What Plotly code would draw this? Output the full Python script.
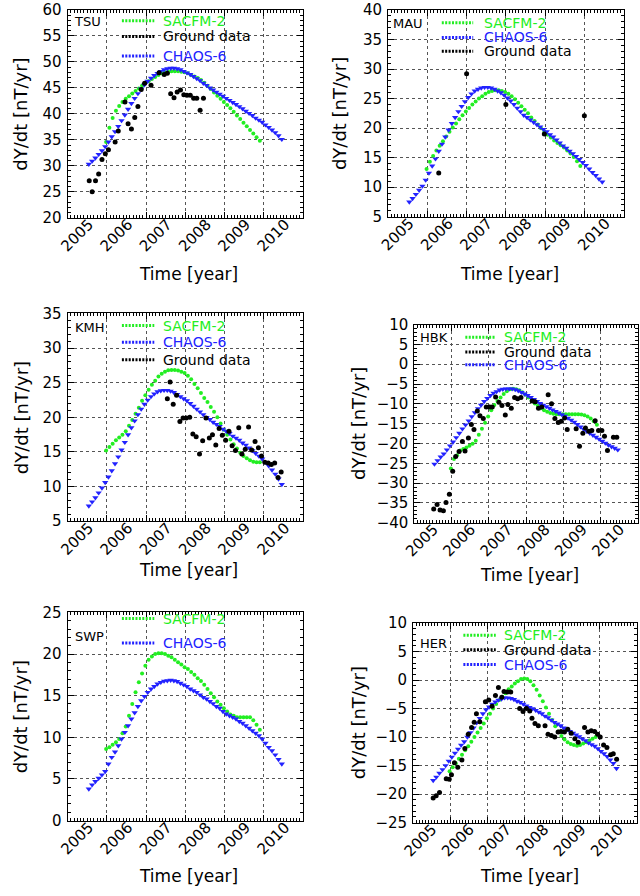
import numpy as np
import plotly.graph_objects as go

W, H = 640, 896

# ---------------- data ----------------
CHAOS_START = 2004.54   # monthly model values (x axis units)
SACFM_START = 2004.98
X_TICKS = [2005, 2006, 2007, 2008, 2009, 2010]

TSU_CHAOS = [30.3, 30.9, 31.5, 32.2, 32.9, 33.7, 34.6, 35.6, 36.6, 37.6,
             38.7, 39.8, 40.9, 42.0, 43.0, 43.9, 44.8, 45.6, 46.3, 46.9,
             47.4, 47.8, 48.2, 48.5, 48.7, 48.8, 48.8, 48.7, 48.5, 48.2,
             47.9, 47.6, 47.2, 46.8, 46.4, 45.9, 45.5, 45.0, 44.6, 44.2,
             43.8, 43.4, 43.0, 42.6, 42.2, 41.8, 41.4, 41.0, 40.5, 40.1,
             39.7, 39.2, 38.8, 38.4, 37.9, 37.4, 36.9, 36.4, 35.8, 35.1]
TSU_SACFM = [34.6, 37.3, 39.2, 40.6, 41.5, 42.3, 42.9, 43.4, 43.9, 44.4,
             44.9, 45.4, 45.9, 46.3, 46.7, 47.1, 47.5, 47.8, 48.0, 48.1,
             48.2, 48.2, 48.2, 48.1, 48.0, 47.8, 47.5, 47.2, 46.9, 46.5,
             46.0, 45.4, 44.8, 44.1, 43.5, 42.9, 42.3, 41.7, 41.1, 40.4,
             39.7, 39.0, 38.3, 37.6, 36.9, 36.2, 35.5, 34.8]
TSU_GROUND_T = [2004.55, 2004.625, 2004.71, 2004.79, 2004.875, 2004.96, 2005.04, 2005.21,
                2005.29, 2005.46, 2005.54, 2005.625, 2005.71, 2005.79, 2005.875, 2005.96,
                2006.125, 2006.33, 2006.46, 2006.54, 2006.625, 2006.71, 2006.79, 2006.875,
                2006.96, 2007.04, 2007.125, 2007.21, 2007.29, 2007.375, 2007.46]
TSU_GROUND = [27.1, 25.0, 27.1, 28.4, 31.2, 32.3, 33.1, 34.6, 36.7, 42.3, 38.1, 37.1,
              39.3, 41.4, 44.7, 45.9, 45.5, 47.9, 47.6, 47.8, 43.85, 43.1, 44.2, 44.6,
              43.7, 43.6, 43.6, 43.0, 43.0, 40.7, 43.0]

MAU_CHAOS = [7.5, 8.1, 8.8, 9.5, 10.2, 11.2, 12.4, 13.6, 14.8, 16.1,
             17.3, 18.5, 19.7, 20.8, 21.8, 22.8, 23.7, 24.5, 25.2, 25.8,
             26.3, 26.6, 26.8, 26.9, 26.9, 26.8, 26.6, 26.3, 26.0, 25.6,
             25.1, 24.6, 24.0, 23.4, 22.8, 22.2, 21.8, 21.4, 21.0, 20.6,
             20.2, 19.8, 19.4, 18.9, 18.5, 18.0, 17.5, 17.0, 16.6, 16.1,
             15.7, 15.2, 14.7, 14.2, 13.7, 13.1, 12.5, 12.0, 11.4, 10.9]
MAU_SACFM = [13.1, 14.3, 15.3, 16.2, 17.0, 17.8, 18.6, 19.4, 20.1, 20.8,
             21.5, 22.2, 22.8, 23.4, 24.0, 24.5, 25.0, 25.4, 25.8, 26.1,
             26.3, 26.4, 26.4, 26.3, 26.1, 25.8, 25.4, 24.9, 24.3, 23.7,
             23.1, 22.5, 21.8, 21.2, 20.6, 20.0, 19.4, 18.9, 18.4, 17.9,
             17.5, 17.1, 16.7, 16.2, 15.7, 15.1, 14.4, 13.6]
MAU_GROUND_T = [2005.29, 2006.0, 2007.0, 2007.98, 2009.0]
MAU_GROUND = [12.4, 29.2, 24.0, 19.0, 22.1]

KMH_CHAOS = [7.2, 7.8, 8.4, 9.1, 9.8, 10.6, 11.4, 12.3, 13.3, 14.3,
             15.3, 16.4, 17.5, 18.5, 19.5, 20.4, 21.2, 21.9, 22.5, 23.0,
             23.4, 23.7, 23.85, 23.9, 23.9, 23.8, 23.6, 23.3, 23.0, 22.7,
             22.4, 22.0, 21.6, 21.2, 20.8, 20.4, 20.0, 19.7, 19.3, 19.0,
             18.7, 18.3, 18.0, 17.7, 17.3, 17.0, 16.7, 16.3, 16.0, 15.6,
             15.2, 14.8, 14.4, 14.0, 13.5, 13.0, 12.4, 11.8, 11.1, 10.3]
KMH_SACFM = [15.2, 15.7, 16.2, 16.7, 17.1, 17.5, 18.0, 18.8, 19.6, 20.5,
             21.4, 22.4, 23.2, 24.0, 24.7, 25.3, 25.9, 26.3, 26.6, 26.8,
             26.85, 26.85, 26.75, 26.6, 26.4, 26.0, 25.5, 24.8, 24.2, 23.5,
             22.8, 22.2, 21.5, 20.8, 20.0, 19.1, 18.2, 17.5, 16.8, 16.1,
             15.5, 14.9, 14.4, 14.1, 13.8, 13.6, 13.5, 13.5]
KMH_GROUND_T = [2006.54, 2006.61, 2006.69, 2006.775, 2006.86, 2006.94, 2007.02, 2007.11,
                2007.19, 2007.275, 2007.36, 2007.44, 2007.525, 2007.61, 2007.69, 2007.775,
                2007.86, 2007.94, 2008.025, 2008.11, 2008.19, 2008.275, 2008.36, 2008.44,
                2008.525, 2008.61, 2008.69, 2008.775, 2008.86, 2008.94, 2009.025, 2009.11,
                2009.19, 2009.275, 2009.36, 2009.44]
KMH_GROUND = [22.7, 25.1, 21.9, 23.2, 19.4, 19.9, 19.9, 20.0, 17.6, 17.2, 14.7, 16.6,
              19.9, 17.0, 17.5, 16.0, 18.4, 17.4, 16.7, 18.0, 15.9, 15.2, 18.5, 14.7,
              15.4, 18.6, 15.3, 16.5, 15.6, 14.4, 13.5, 13.4, 13.2, 13.4, 11.3, 12.1]

HBK_CHAOS = [-25.2, -24.3, -23.4, -22.6, -21.6, -20.6, -19.6, -18.5, -17.4, -16.3,
             -15.3, -14.3, -13.2, -12.2, -11.2, -10.3, -9.4, -8.6, -7.9, -7.3,
             -6.9, -6.5, -6.3, -6.2, -6.2, -6.2, -6.4, -6.7, -7.1, -7.5,
             -7.9, -8.4, -8.9, -9.4, -9.9, -10.3, -10.7, -11.1, -11.5, -11.9,
             -12.3, -12.7, -13.1, -13.6, -14.1, -14.6, -15.2, -15.8, -16.4, -16.9,
             -17.4, -17.9, -18.4, -18.9, -19.4, -19.9, -20.4, -20.8, -21.2, -21.6]
HBK_SACFM = [-26.3, -23.9, -23.0, -21.8, -21.4, -21.0, -20.6, -20.1, -19.3, -17.8,
             -16.3, -14.8, -13.2, -11.6, -10.3, -9.3, -8.4, -7.5, -6.8, -6.3,
             -6.2, -6.3, -6.6, -7.1, -7.7, -8.4, -9.2, -9.9, -10.5, -11.1,
             -11.6, -12.0, -12.3, -12.5, -12.6, -12.6, -12.6, -12.6, -12.6, -12.6,
             -12.6, -12.6, -12.7, -12.9, -13.2, -13.7, -14.4, -15.3]
HBK_GROUND_T = [2004.52, 2004.61, 2004.69, 2004.78, 2004.85, 2004.94, 2005.03, 2005.11,
                2005.2, 2005.29, 2005.36, 2005.45, 2005.53, 2005.6, 2005.69, 2005.76,
                2005.85, 2005.93, 2006.02, 2006.09, 2006.18, 2006.27, 2006.35, 2006.44,
                2006.51, 2006.6, 2006.69, 2006.77, 2006.86, 2007.16, 2007.24, 2007.33,
                2007.42, 2007.59, 2007.68, 2007.77, 2007.86, 2007.94, 2008.03, 2008.1,
                2008.34, 2008.43, 2008.52, 2008.59, 2008.68, 2008.76, 2008.85, 2008.94,
                2009.03, 2009.1, 2009.18, 2009.34, 2009.43]
HBK_GROUND = [-36.5, -35.4, -36.8, -37.0, -34.9, -32.8, -27.0, -23.3, -22.0, -19.5,
              -21.9, -18.6, -15.2, -16.5, -11.8, -13.0, -13.7, -10.8, -10.8, -10.8,
              -8.3, -9.6, -10.4, -12.8, -10.2, -11.1, -8.4, -8.7, -8.4, -9.3,
              -9.5, -11.1, -10.8, -7.7, -10.0, -13.7, -14.7, -14.4, -13.6, -16.5,
              -16.3, -20.7, -17.4, -16.1, -16.9, -16.7, -14.3, -16.7, -16.7, -18.2,
              -21.8, -18.4, -18.4]

SWP_CHAOS = [3.8, 4.3, 4.7, 5.1, 5.5, 5.9, 6.8, 7.6, 8.25, 9.0,
             9.8, 10.6, 11.4, 12.2, 12.95, 13.7, 14.4, 14.9, 15.4, 15.8,
             16.1, 16.4, 16.6, 16.75, 16.8, 16.85, 16.8, 16.7, 16.5, 16.3,
             16.1, 15.8, 15.6, 15.4, 15.1, 14.8, 14.6, 14.3, 14.05, 13.7,
             13.5, 13.1, 12.8, 12.6, 12.4, 12.2, 11.9, 11.7, 11.4, 11.1,
             10.8, 10.5, 10.2, 9.8, 9.3, 8.8, 8.4, 7.9, 7.35, 6.8]
SWP_SACFM = [8.6, 8.8, 9.1, 9.4, 9.8, 10.5, 11.3, 12.6, 14.0, 15.4,
             16.6, 17.65, 18.6, 19.3, 19.7, 20.0, 20.1, 20.1, 20.0, 19.8,
             19.6, 19.3, 19.0, 18.75, 18.4, 18.2, 17.85, 17.5, 17.1, 16.75,
             16.3, 15.8, 15.3, 14.8, 14.3, 13.9, 13.5, 13.1, 12.75, 12.6,
             12.4, 12.4, 12.4, 12.4, 12.4, 12.05, 11.5, 10.9]

HER_CHAOS = [-17.6, -17.0, -16.3, -15.7, -15.0, -14.2, -13.5, -12.8, -12.1, -11.4,
             -10.8, -10.0, -9.2, -8.4, -7.5, -6.7, -5.9, -5.2, -4.7, -4.2,
             -3.8, -3.5, -3.3, -3.1, -3.1, -3.2, -3.4, -3.7, -3.9, -4.2,
             -4.5, -4.8, -5.0, -5.3, -5.6, -5.9, -6.3, -6.6, -7.0, -7.4,
             -7.7, -8.0, -8.4, -8.7, -9.0, -9.3, -9.6, -9.9, -10.3, -10.6,
             -11.0, -11.3, -11.6, -12.0, -12.5, -12.9, -13.4, -14.0, -14.6, -15.5]
HER_SACFM = [-16.0, -15.3, -14.6, -13.8, -13.1, -12.3, -11.6, -10.8, -10.0, -9.2,
             -8.4, -7.6, -6.7, -5.9, -5.0, -4.2, -3.5, -2.9, -2.3, -1.6,
             -1.1, -0.6, -0.2, 0.2, 0.3, 0.2, -0.2, -0.9, -1.7, -2.7,
             -3.7, -4.8, -5.9, -7.0, -8.1, -9.0, -9.8, -10.4, -10.9, -11.2,
             -11.4, -11.5, -11.4, -11.1, -10.9, -10.6, -10.3, -10.0]
HER_GROUND_T = [2004.54, 2004.62, 2004.71, 2004.89, 2004.97, 2005.03, 2005.11, 2005.2,
                2005.31, 2005.39, 2005.48, 2005.57, 2005.64, 2005.7, 2005.79, 2005.94,
                2006.03, 2006.12, 2006.21, 2006.29, 2006.38, 2006.44, 2006.53, 2006.62,
                2006.86, 2006.95, 2007.04, 2007.13, 2007.19, 2007.27, 2007.36, 2007.54,
                2007.62, 2007.71, 2007.8, 2007.89, 2007.97, 2008.06, 2008.15, 2008.24,
                2008.34, 2008.43, 2008.6, 2008.69, 2008.78, 2008.87, 2008.95, 2009.02,
                2009.11, 2009.2, 2009.3, 2009.37, 2009.46]
HER_GROUND = [-20.7, -20.3, -19.7, -17.3, -17.4, -16.6, -14.5, -15.3, -14.0, -12.0,
              -9.5, -8.3, -7.4, -5.9, -7.3, -3.8, -3.5, -4.6, -2.7, -1.3,
              -3.0, -2.0, -2.1, -2.1, -5.0, -5.5, -5.0, -5.4, -6.7, -7.6,
              -8.0, -8.0, -9.5, -9.7, -10.0, -9.1, -9.0, -9.1, -8.6, -9.3,
              -10.3, -10.9, -8.3, -9.1, -8.9, -9.0, -9.5, -10.0, -11.4, -11.8,
              -13.1, -12.9, -13.9]

# ---------------- styles / layout ----------------
GREEN = "#22ee22"
BLUE = "#2222ff"
BLACK = "#000000"
FONT = "DejaVu Sans"

SERIES = {
    "SACFM-2": dict(color=GREEN, symbol="circle", size=4),
    "CHAOS-6": dict(color=BLUE, symbol="triangle-down", size=5.5),
    "Ground data": dict(color=BLACK, symbol="circle", size=5),
}

PANELS = [
    dict(name="TSU", chaos=TSU_CHAOS, sacfm=TSU_SACFM, gt=TSU_GROUND_T, gv=TSU_GROUND,
         yrange=(20, 60), box=(56.7, 296.7, 1, 213), ytx=9, xty=270, xtx=180,
         st=(77, 13), samp=(112, 145), tx=153,
         leg=[("SACFM-2", 12), ("Ground data", 28), ("CHAOS-6", 48)]),
    dict(name="MAU", chaos=MAU_CHAOS, sacfm=MAU_SACFM, gt=MAU_GROUND_T, gv=MAU_GROUND,
         yrange=(5, 40), box=(383.3, 623.3, 1, 212), ytx=334, xty=270, xtx=507,
         st=(404, 15), samp=(438, 470), tx=480,
         leg=[("SACFM-2", 14), ("CHAOS-6", 29), ("Ground data", 43)]),
    dict(name="KMH", chaos=KMH_CHAOS, sacfm=KMH_SACFM, gt=KMH_GROUND_T, gv=KMH_GROUND,
         yrange=(5, 35), box=(56.7, 296.7, 310.7, 522.7), ytx=9, xty=573, xtx=180,
         st=(79, 325), samp=(112, 145), tx=153,
         leg=[("SACFM-2", 323), ("CHAOS-6", 340), ("Ground data", 358)]),
    dict(name="HBK", chaos=HBK_CHAOS, sacfm=HBK_SACFM, gt=HBK_GROUND_T, gv=HBK_GROUND,
         yrange=(-40, 10), box=(410, 638, 322, 524.3), ytx=353, xty=578, xtx=527,
         st=(430, 335), samp=(462, 493), tx=500,
         leg=[("SACFM-2", 335), ("Ground data", 350), ("CHAOS-6", 363)]),
    dict(name="SWP", chaos=SWP_CHAOS, sacfm=SWP_SACFM, gt=None, gv=None,
         yrange=(0, 25), box=(56.7, 296.7, 615.7, 828.3), ytx=9, xty=885, xtx=180,
         st=(79, 640), samp=(112, 145), tx=153,
         leg=[("SACFM-2", 622), ("CHAOS-6", 647)]),
    dict(name="HER", chaos=HER_CHAOS, sacfm=HER_SACFM, gt=HER_GROUND_T, gv=HER_GROUND,
         yrange=(-25, 10), box=(408.7, 636.7, 626.7, 830.3), ytx=353, xty=885, xtx=527,
         st=(430, 647), samp=(460, 493), tx=500,
         leg=[("SACFM-2", 639), ("Ground data", 654), ("CHAOS-6", 669)]),
]


def fx(px):
    return px / W


def fy(py):
    return 1 - py / H


fig = go.Figure()
layout = dict(width=W, height=H, margin=dict(l=0, r=0, t=0, b=0, pad=0),
              paper_bgcolor="white", plot_bgcolor="white", showlegend=False,
              font=dict(family=FONT, size=15, color="black"))
annotations = []
shapes = []

for k, p in enumerate(PANELS, start=1):
    xa = "x" if k == 1 else f"x{k}"
    ya = "y" if k == 1 else f"y{k}"
    l, r, t, b = p["box"]
    ax_common = dict(showline=True, linecolor="black", linewidth=1, mirror="allticks",
                     ticks="inside", ticklen=6, tickcolor="black",
                     showgrid=True, gridcolor="#555555", griddash="dot", gridwidth=1,
                     zeroline=False, tickfont=dict(family=FONT, size=15, color="black"))
    layout[f"xaxis{'' if k == 1 else k}"] = dict(
        ax_common, domain=[fx(l), fx(r)], anchor=ya, range=[2004, 2010],
        tickvals=X_TICKS, ticktext=[str(v) for v in X_TICKS], tickangle=-45,
        ticklabelshift=-18, ticklabelstandoff=-9,
        minor=dict(dtick=1 / 12, tick0=2004, ticks="inside", ticklen=3,
                   tickcolor="black", showgrid=False))
    y0, y1 = p["yrange"]
    layout[f"yaxis{'' if k == 1 else k}"] = dict(
        ax_common, domain=[fy(b), fy(t)], anchor=xa, range=[y0, y1],
        tickmode="linear", tick0=y0, dtick=5, ticklabelstandoff=2,
        minor=dict(dtick=1, ticks="inside", ticklen=3, tickcolor="black", showgrid=False))

    # model curves and ground data
    t_s = SACFM_START + np.arange(len(p["sacfm"])) / 12
    t_c = CHAOS_START + np.arange(len(p["chaos"])) / 12
    for lab, tt, vv in [("SACFM-2", t_s, p["sacfm"]), ("CHAOS-6", t_c, p["chaos"]),
                        ("Ground data", p["gt"], p["gv"])]:
        if tt is None:
            continue
        st = SERIES[lab]
        fig.add_trace(go.Scatter(x=tt, y=vv, mode="markers", xaxis=xa, yaxis=ya, name=lab,
                                 marker=dict(color=st["color"], symbol=st["symbol"],
                                             size=st["size"], line=dict(width=0))))

    # station label
    annotations.append(dict(text=p["name"], x=fx(p["st"][0]), y=fy(p["st"][1]),
                            xref="paper", yref="paper", showarrow=False,
                            xanchor="center", yanchor="middle",
                            font=dict(family=FONT, size=13, color="black")))
    # legend
    for lab, yy in p["leg"]:
        c = SERIES[lab]["color"]
        shapes.append(dict(type="line", xref="paper", yref="paper",
                           x0=fx(p["samp"][0]), x1=fx(p["samp"][1]),
                           y0=fy(yy), y1=fy(yy),
                           line=dict(color=c, width=3, dash="2px,1.4px")))
        annotations.append(dict(text=lab, x=fx(p["tx"]), y=fy(yy), xref="paper", yref="paper",
                                showarrow=False, xanchor="left", yanchor="middle",
                                borderpad=0, height=12,
                                font=dict(family=FONT, size=14, color=c)))
    # axis titles
    annotations.append(dict(text="dY/dt [nT/yr]", x=fx(p["ytx"]), y=fy((t + b) / 2),
                            xref="paper", yref="paper", showarrow=False, textangle=-90,
                            xanchor="center", yanchor="middle",
                            font=dict(family=FONT, size=18, color="black")))
    annotations.append(dict(text="Time [year]", x=fx(p["xtx"]), y=fy(p["xty"]),
                            xref="paper", yref="paper", showarrow=False,
                            xanchor="center", yanchor="middle",
                            font=dict(family=FONT, size=17, color="black")))

layout["annotations"] = annotations
layout["shapes"] = shapes
fig.update_layout(**layout)
fig.write_html("out.html", config={"displayModeBar": False},
               post_script="document.body.style.margin='0px';document.body.style.padding='0px';")
